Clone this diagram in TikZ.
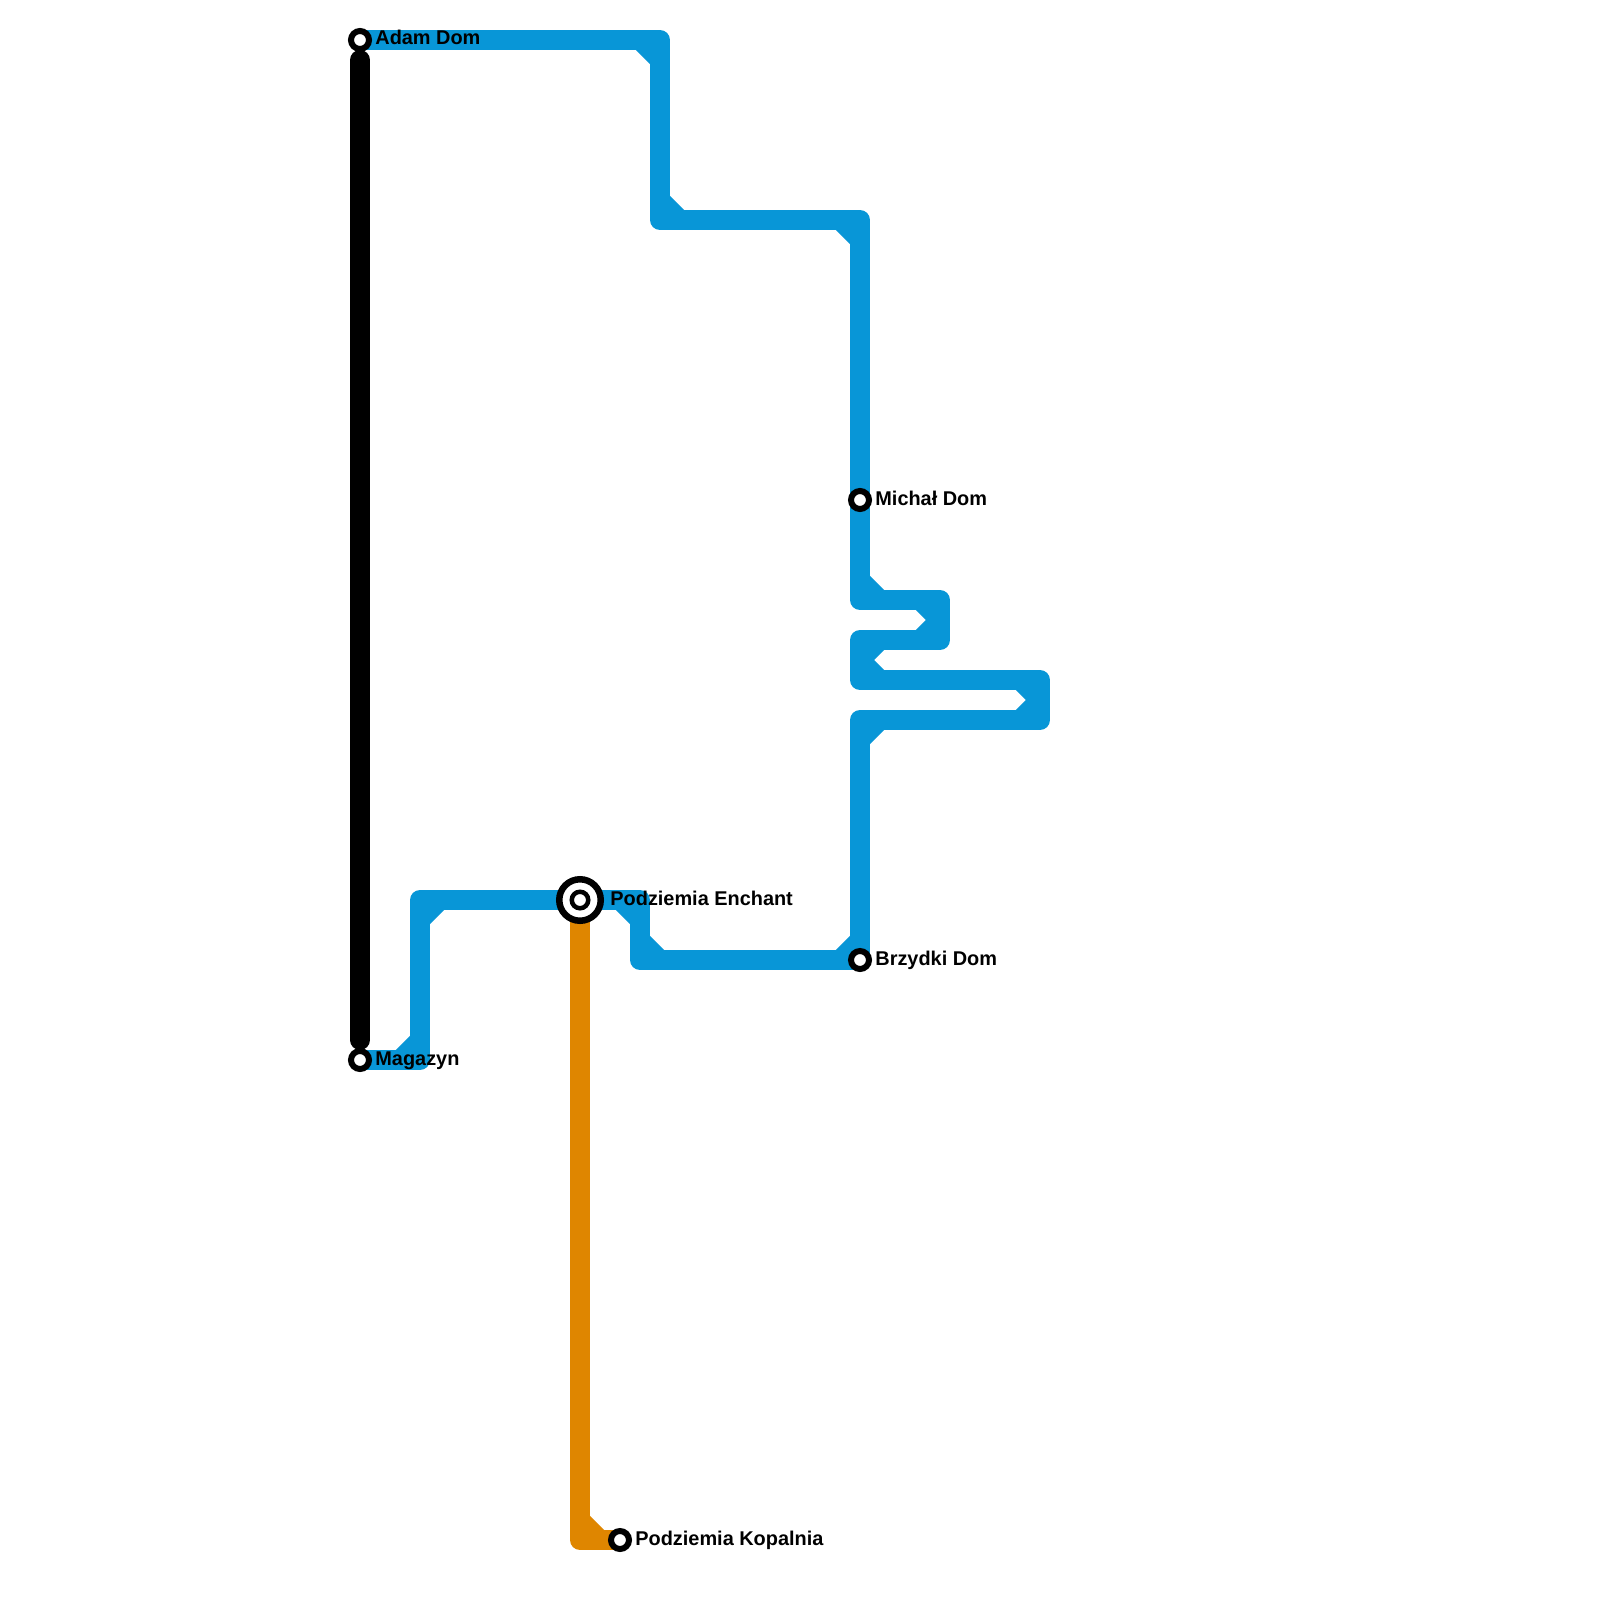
\documentclass[tikz,border=0pt]{standalone}
\usepackage{fontspec}
\setmainfont{Liberation Sans}
\usetikzlibrary{calc,backgrounds}
\definecolor{lineblue}{HTML}{0896D7}
\definecolor{lineorange}{HTML}{DF8600}
\tikzset{
  station/.style={circle,draw=black,fill=white,line width=3pt,minimum size=9pt,inner sep=0pt},
  hub/.style={circle,draw=black,fill=white,line width=3.25pt,minimum size=20.75pt,inner sep=0pt},
  hubinner/.style={circle,draw=black,fill=white,line width=2.25pt,minimum size=8.25pt,inner sep=0pt},
  stationtext/.style={anchor=base west,inner sep=0pt,font=\bfseries\fontsize{9.95}{12}\selectfont},
  route/.style={line width=10pt,line join=round}
}
\begin{document}
\begin{tikzpicture}[x=0.5pt,y=-0.5pt]
\useasboundingbox (0,0) rectangle (1600,1600);

% stations
\node[station] (adam) at (360,40) {};
\node[station] (magazyn) at (360,1060) {};
\node[station] (michal) at (860,500) {};
\node[station] (brzydki) at (860,960) {};
\node[station] (kopalnia) at (620,1540) {};
\node[hub] (enchant) at (580,900) {};
\node[hubinner] (enchantin) at (enchant) {};

% bends of the blue line
\coordinate (b1) at (660,40);
\coordinate (b2) at (660,220);
\coordinate (b3) at (860,220);
\coordinate (b4) at (860,600);
\coordinate (b5) at (940,600);
\coordinate (b6) at (940,640);
\coordinate (b7) at (860,640);
\coordinate (b8) at (860,680);
\coordinate (b9) at (1040,680);
\coordinate (b10) at (1040,720);
\coordinate (b11) at (860,720);
\coordinate (b12) at (640,960);
\coordinate (b13) at (640,900);
\coordinate (b14) at (420,900);
\coordinate (b15) at (420,1060);
% bend of the orange line
\coordinate (o1) at (580,1540);

\begin{scope}[on background layer]
\draw[route,lineblue] (adam.center) -- (b1) -- (b2) -- (b3) -- (b4) -- (b5) -- (b6) -- (b7) -- (b8)
  -- (b9) -- (b10) -- (b11) -- (brzydki.center) -- (b12) -- (b13) -- (b14) -- (b15) -- (magazyn.center);
\foreach \p/\c/\n in {adam/b1/b2,b1/b2/b3,b2/b3/b4,b3/b4/b5,b4/b5/b6,b5/b6/b7,b6/b7/b8,b7/b8/b9,
  b8/b9/b10,b9/b10/b11,b10/b11/brzydki,b11/brzydki/b12,brzydki/b12/b13,b12/b13/b14,b13/b14/b15,b14/b15/magazyn}
  \draw[route,lineblue] ($(\c.center)!10pt!(\p.center)$) -- ($(\c.center)!10pt!(\n.center)$);
\draw[line width=10pt,line cap=round,black,shorten <=10pt,shorten >=10pt] (adam.center) -- (magazyn.center);
\draw[route,lineorange] (enchant.center) -- (o1) -- (kopalnia.center);
\draw[route,lineorange] ($(o1.center)!10pt!(enchant.center)$) -- ($(o1.center)!10pt!(kopalnia.center)$);
\end{scope}

% labels
\node[stationtext] (adamtext) at (375,45) {Adam Dom};
\node[stationtext] (magazyntext) at (375,1065) {Magazyn};
\node[stationtext] (michaltext) at (875,505) {Michał Dom};
\node[stationtext] (brzydkitext) at (875,965) {Brzydki Dom};
\node[stationtext] (kopalniatext) at (635,1545) {Podziemia Kopalnia};
\node[stationtext] (enchanttext) at (610,905) {Podziemia Enchant};
\end{tikzpicture}
\end{document}
